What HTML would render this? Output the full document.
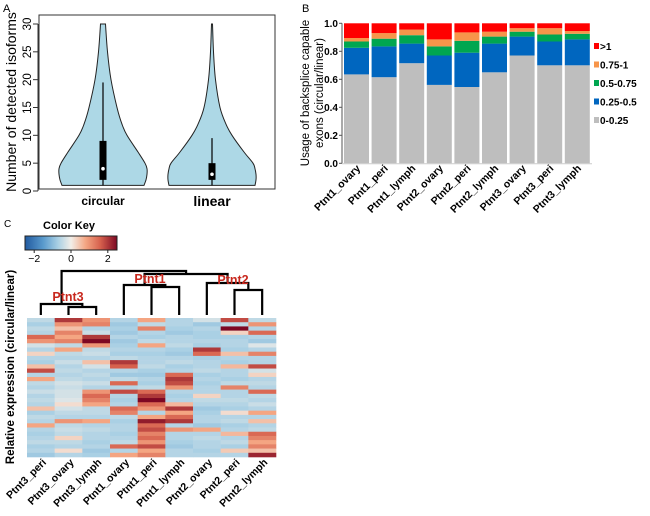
<!DOCTYPE html>
<html><head><meta charset="utf-8"><style>
html,body{margin:0;padding:0;background:#fff}
svg{display:block;font-family:"Liberation Sans",Arial,sans-serif}
</style></head><body>
<svg id="fig" width="650" height="516" viewBox="0 0 650 516" xmlns="http://www.w3.org/2000/svg">
<g id="pa">
<text x="3" y="12" font-size="11">A</text>
<rect x="39" y="15" width="236" height="174" fill="none" stroke="#333" stroke-width="1"/>
<text transform="translate(16,102) rotate(-90)" text-anchor="middle" font-size="14">Number of detected isoforms</text>
<text x="103" y="205" text-anchor="middle" font-size="12" font-weight="bold">circular</text>
<text x="212" y="206" text-anchor="middle" font-size="14" font-weight="bold">linear</text>
</g>
<g id="pb">
<text x="302" y="12" font-size="11">B</text>
<text transform="translate(309,93) rotate(-90)" text-anchor="middle" font-size="11.5">Usage of backsplice capable</text>
<text transform="translate(323,93) rotate(-90)" text-anchor="middle" font-size="11.5">exons (circular/linear)</text>
</g>
<g id="pc">
<text x="4" y="227" font-size="10">C</text>
<text x="43" y="229" font-size="11" font-weight="bold">Color Key</text>
<text transform="translate(14,367) rotate(-90)" text-anchor="middle" font-size="11.5" font-weight="bold">Relative expression (circular/linear)</text>
</g>
</svg>
<script>
const violinGroups = ['circular', 'linear'];
const densityLevels = [1, 2, 3, 4, 5, 7, 10, 12, 15, 20, 25, 30];
const circularWidth = [41, 43, 44, 44, 42, 35, 24, 19, 14, 8, 4.5, 2.5];
const linearWidth = [43, 44, 44, 43, 41, 32, 20, 14, 8, 3.5, 1.5, 0.5];
const boxQ1 = [2, 2];
const boxQ3 = [9, 5];
const boxMedian = [4, 3];
const whiskerLow = [1, 1];
const whiskerHigh = [19.5, 9.5];
const violinTop = [30, 30];
const yTicksA = [0, 5, 10, 15, 20, 25, 30];

const samplesB = ['Ptnt1_ovary','Ptnt1_peri','Ptnt1_lymph','Ptnt2_ovary','Ptnt2_peri','Ptnt2_lymph','Ptnt3_ovary','Ptnt3_peri','Ptnt3_lymph'];
const seriesNames = ['0-0.25','0.25-0.5','0.5-0.75','0.75-1','>1'];
const s0to025 = [0.635, 0.615, 0.715, 0.56, 0.545, 0.65, 0.77, 0.70, 0.70];
const s025to05 = [0.19, 0.22, 0.14, 0.21, 0.245, 0.205, 0.135, 0.17, 0.185];
const s05to075 = [0.045, 0.055, 0.06, 0.065, 0.085, 0.05, 0.035, 0.05, 0.04];
const s075to1 = [0.025, 0.04, 0.04, 0.05, 0.06, 0.035, 0.025, 0.045, 0.02];
const sAbove1 = [0.105, 0.07, 0.045, 0.115, 0.065, 0.06, 0.035, 0.035, 0.055];
const yTicksB = ['0.0','0.2','0.4','0.6','0.8','1.0'];

const samplesC = ['Ptnt3_peri','Ptnt3_ovary','Ptnt3_lymph','Ptnt1_ovary','Ptnt1_peri','Ptnt1_lymph','Ptnt2_ovary','Ptnt2_peri','Ptnt2_lymph'];
const heatValues = [
[-0.5,2,1,-0.6,0.8,-0.6,-0.3,1.8,-0.5],
[-0.7,1,1.2,-0.8,-0.5,-0.6,-0.8,-0.5,1],
[-0.5,0.5,-0.6,-0.7,1.2,-0.7,-0.6,2.5,-0.6],
[-0.6,1.2,-0.4,-0.8,-0.6,-0.8,-0.7,0.3,1.5],
[1.5,0.8,2,-0.6,-0.7,-0.6,-0.7,-0.7,-0.6],
[1,1.2,2.5,-0.8,-0.5,-0.6,-0.6,-0.6,-0.8],
[-0.3,-0.5,1,-0.7,0.8,-0.5,-0.7,-0.6,-0.2],
[-0.6,0.8,-0.5,-0.6,-0.6,-0.7,2,-0.7,-0.6],
[0.3,-0.5,-0.4,-0.7,-0.7,-0.8,1.5,0.5,1.2],
[-0.6,-0.6,-0.6,-0.5,-0.6,-0.6,-0.7,-0.6,-0.6],
[-0.7,-0.4,0.5,2,-0.6,-0.5,-0.6,-0.7,-0.6],
[0.5,-0.6,-0.3,1.6,-0.5,-0.7,-0.6,0.6,1.8],
[1.8,-0.5,-0.6,-0.6,-0.7,-0.6,-0.5,-0.6,-0.3],
[-0.6,-0.6,-0.5,-0.8,-0.8,1.5,-0.7,-0.6,0.3],
[0.8,-0.5,-0.6,-0.5,-0.6,2,-0.6,-0.7,-0.6],
[-0.5,-0.3,-0.4,1.5,-0.7,1.8,-0.7,-0.5,-0.5],
[-0.6,-0.4,-0.6,-0.6,-0.5,1,-0.6,1.2,-0.6],
[-0.4,-0.3,1,1.8,1.5,-0.6,-0.6,-0.6,1.5],
[-0.6,-0.3,1.5,-0.6,2,-0.7,0.3,-0.6,-0.5],
[-0.5,-0.2,1.2,-0.7,2.5,-0.6,-0.5,-0.5,-0.6],
[-0.6,0.2,0.8,-0.6,1.5,0.6,-0.6,-0.6,-0.4],
[0.5,-0.3,-0.5,1.5,1,2,-0.8,-0.7,-0.6],
[-0.7,-0.5,-0.5,1.2,-0.6,0.8,-0.7,0.2,0.8],
[-0.5,-0.6,-0.6,-0.5,0.8,1.5,-0.6,-0.6,-0.6],
[-0.6,1,0.8,-0.7,2.3,2,-0.6,-0.5,0.5],
[0.8,-0.5,-0.6,-0.6,1.5,-0.6,-0.8,-0.7,-0.6],
[-0.6,-0.4,-0.5,-0.6,1.8,1,0.8,-0.6,-0.5],
[-0.7,-0.5,-0.6,-0.7,1.2,-0.6,-0.6,0.6,1.5],
[-0.6,0.3,-0.6,-0.6,1.5,-0.6,-0.5,-0.6,1.2],
[-0.5,-0.5,-0.7,-0.5,1,-0.7,-0.6,-0.5,0.8],
[-0.7,-0.6,-0.6,1.5,1.8,-0.8,-0.6,-0.7,1.2],
[-0.6,0.2,-0.8,-0.6,0.8,-0.6,-0.7,0.4,0.5],
[-0.8,-0.6,-0.7,0.8,1.2,-0.6,-0.6,-0.6,2.2]
];
const keyTicks = [-2, 0, 2];

const NS = 'http://www.w3.org/2000/svg';
function mk(tag, attrs, parent) {
  const e = document.createElementNS(NS, tag);
  for (const k in attrs) e.setAttribute(k, attrs[k]);
  parent.appendChild(e);
  return e;
}

const pa = document.getElementById('pa');
const yA = v => 191 - v * 5.567;
const xA = i => [103, 212][i];
yTicksA.forEach(t => {
  const tk = mk('line', {x1: 33, x2: 38, y1: yA(t), y2: yA(t), stroke: '#333'}, pa);
  
  
  const tl = mk('text', {transform: `translate(31,${yA(t)}) rotate(-90)`, 'text-anchor': 'middle', 'font-size': 11.5}, pa);
  tl.textContent = t;
  
  
});
mk('line', {x1: 38, x2: 38, y1: yA(0), y2: yA(30), stroke: '#333'}, pa);
function smooth(arr) {
  let s = `M${arr[0][0]},${arr[0][1]}`;
  for (let k = 0; k < arr.length - 1; k++) {
    const p0 = arr[Math.max(0, k - 1)], p1 = arr[k], p2 = arr[k + 1], p3 = arr[Math.min(arr.length - 1, k + 2)];
    const c1 = [p1[0] + (p2[0] - p0[0]) / 6, p1[1] + (p2[1] - p0[1]) / 6];
    const c2 = [p2[0] - (p3[0] - p1[0]) / 6, p2[1] - (p3[1] - p1[1]) / 6];
    s += ` C${c1[0].toFixed(1)},${c1[1].toFixed(1)} ${c2[0].toFixed(1)},${c2[1].toFixed(1)} ${p2[0].toFixed(1)},${p2[1].toFixed(1)}`;
  }
  return s;
}
[circularWidth, linearWidth].forEach((w, i) => {
  const cx = xA(i);
  const pts = densityLevels.map((lv, j) => [cx - w[j], yA(lv)]);
  const rpts = densityLevels.map((lv, j) => [cx + w[j], yA(lv)]).reverse();
  const left = smooth(pts);
  const right = smooth(rpts).replace(/^M/, 'L');
  const v = mk('path', {d: left + ' L' + (cx - w[w.length - 1]) + ',' + yA(violinTop[i]) + ' L' + (cx + w[w.length - 1]) + ',' + yA(violinTop[i]) + ' ' + right + ' Z', fill: '#add8e6', stroke: '#222', 'stroke-width': 1}, pa);
  
  
  const wl = mk('line', {x1: cx, x2: cx, y1: yA(whiskerLow[i]), y2: yA(whiskerHigh[i]), stroke: '#000', 'stroke-width': 1.2}, pa);
  
  
  const bx = mk('rect', {x: cx - 3.5, y: yA(boxQ3[i]), width: 7, height: yA(boxQ1[i]) - yA(boxQ3[i]), fill: '#000'}, pa);
  
  
  const md = mk('circle', {cx: cx, cy: yA(boxMedian[i]), r: 1.8, fill: '#fff'}, pa);
  
  
});

const pb = document.getElementById('pb');
const yB = v => 163.3 - v * 140;
const xB = i => 344 + i * 27.6;
const colorsB = ['#bebebe', '#0066bf', '#00a650', '#f7954a', '#ff0000'];
const seriesB = [s0to025, s025to05, s05to075, s075to1, sAbove1];
mk('line', {x1: 342, x2: 342, y1: yB(0), y2: yB(1), stroke: '#555'}, pb);
yTicksB.forEach(t => {
  const v = parseFloat(t);
  mk('line', {x1: 339, x2: 342, y1: yB(v), y2: yB(v), stroke: '#555'}, pb);
  const tl = mk('text', {x: 338, y: yB(v) + 3.5, 'text-anchor': 'end', 'font-size': 10, 'font-weight': 'bold'}, pb);
  tl.textContent = t;
  
  
});
samplesB.forEach((s, i) => {
  let cum = 0;
  seriesB.forEach((ser, k) => {
    const v = ser[i];
    const r = mk('rect', {x: xB(i), y: yB(cum + v), width: 25, height: yB(cum) - yB(cum + v), fill: colorsB[k]}, pb);
    
    
    cum += v;
  });
  const lb = mk('text', {transform: `translate(${xB(i) + 17},${169}) rotate(-45)`, 'text-anchor': 'end', 'font-size': 10.5, 'font-weight': 'bold'}, pb);
  lb.textContent = s;
  
  
});
mk('line', {x1: 342, x2: 592, y1: yB(0) + 0.5, y2: yB(0) + 0.5, stroke: '#ccc'}, pb);
seriesNames.slice().reverse().forEach((n, k) => {
  const ci = 4 - k;
  const y = 46 + k * 18.5;
  const sw = mk('rect', {x: 594, y: y - 3, width: 5, height: 6, fill: colorsB[ci]}, pb);
  
  
  const lt = mk('text', {x: 600, y: y + 4, 'font-size': 10, 'font-weight': 'bold'}, pb);
  lt.textContent = n;
  
  
});

const pc = document.getElementById('pc');
const stops = [[-2.5,[33,90,160]],[-1.5,[90,155,205]],[-0.7,[170,208,228]],[0,[242,238,232]],[0.8,[244,165,130]],[1.6,[214,96,77]],[2.5,[125,8,35]]];
function heatColor(v) {
  if (v <= stops[0][0]) return `rgb(${stops[0][1]})`;
  for (let k = 0; k < stops.length - 1; k++) {
    const a = stops[k], b = stops[k + 1];
    if (v <= b[0]) {
      const t = (v - a[0]) / (b[0] - a[0]);
      const c = a[1].map((x, j) => Math.round(x + (b[1][j] - x) * t));
      return `rgb(${c})`;
    }
  }
  return `rgb(${stops[stops.length - 1][1]})`;
}
const defs = mk('defs', {}, pc);
const grad = mk('linearGradient', {id: 'kg', x1: 0, x2: 1, y1: 0, y2: 0}, defs);
stops.forEach(s => mk('stop', {offset: ((s[0] + 2.5) / 5 * 100) + '%', 'stop-color': `rgb(${s[1]})`}, grad));
const key = mk('rect', {x: 25, y: 236, width: 92, height: 14, fill: 'url(#kg)', stroke: '#222', 'stroke-width': 1}, pc);


const xKey = v => 25 + (v + 2.5) / 5 * 92;
keyTicks.forEach(t => {
  mk('line', {x1: xKey(t), x2: xKey(t), y1: 250, y2: 253, stroke: '#222'}, pc);
  const kl = mk('text', {x: xKey(t), y: 262, 'text-anchor': 'middle', 'font-size': 10.5}, pc);
  kl.textContent = t < 0 ? '\u2212' + Math.abs(t) : t;
  
  
});
const hx0 = 27, hy0 = 318, hw = 249, hh = 139;
const cw = hw / samplesC.length, rh = hh / heatValues.length;
heatValues.forEach((row, r) => {
  row.forEach((v, c) => {
    const cell = mk('rect', {x: hx0 + c * cw, y: hy0 + r * rh, width: cw + 0.3, height: rh + 0.3, fill: heatColor(v)}, pc);
    
    
  });
});
samplesC.forEach((s, c) => {
  const lb = mk('text', {transform: `translate(${hx0 + c * cw + cw / 2 + 6},${463}) rotate(-45)`, 'text-anchor': 'end', 'font-size': 10.5, 'font-weight': 'bold'}, pc);
  lb.textContent = s;
  
  
});
const lx = c => hx0 + c * cw + cw / 2;
const dendro = mk('g', {stroke: '#000', 'stroke-width': 2.2, fill: 'none'}, pc);


function link(x1, y1top, x2, y2top, h) {
  mk('path', {d: `M${x1},${y1top} V${h} H${x2} V${y2top}`}, dendro);
}
const leafY = 315;
const m3a = (lx(1) + lx(2)) / 2; link(lx(1), leafY, lx(2), leafY, 307);
const m3 = (lx(0) + m3a) / 2; link(lx(0), leafY, m3a, 307, 304);
const m1a = (lx(4) + lx(5)) / 2; link(lx(4), leafY, lx(5), leafY, 287);
const m1 = (lx(3) + m1a) / 2; link(lx(3), leafY, m1a, 287, 285);
const m2a = (lx(7) + lx(8)) / 2; link(lx(7), leafY, lx(8), leafY, 290);
const m2 = (lx(6) + m2a) / 2; link(lx(6), leafY, m2a, 290, 283);
const m12 = (m1 + m2) / 2; link(m1, 285, m2, 283, 274);
link(m3, 304, m12, 274, 271);
[['Ptnt3', 68, 301], ['Ptnt1', 150, 283], ['Ptnt2', 233, 284]].forEach(p => {
  const t = mk('text', {x: p[1], y: p[2], 'text-anchor': 'middle', 'font-size': 12.5, 'font-weight': 'bold', fill: '#c8281e'}, pc);
  t.textContent = p[0];
  
  
});
</script>
</body></html>
